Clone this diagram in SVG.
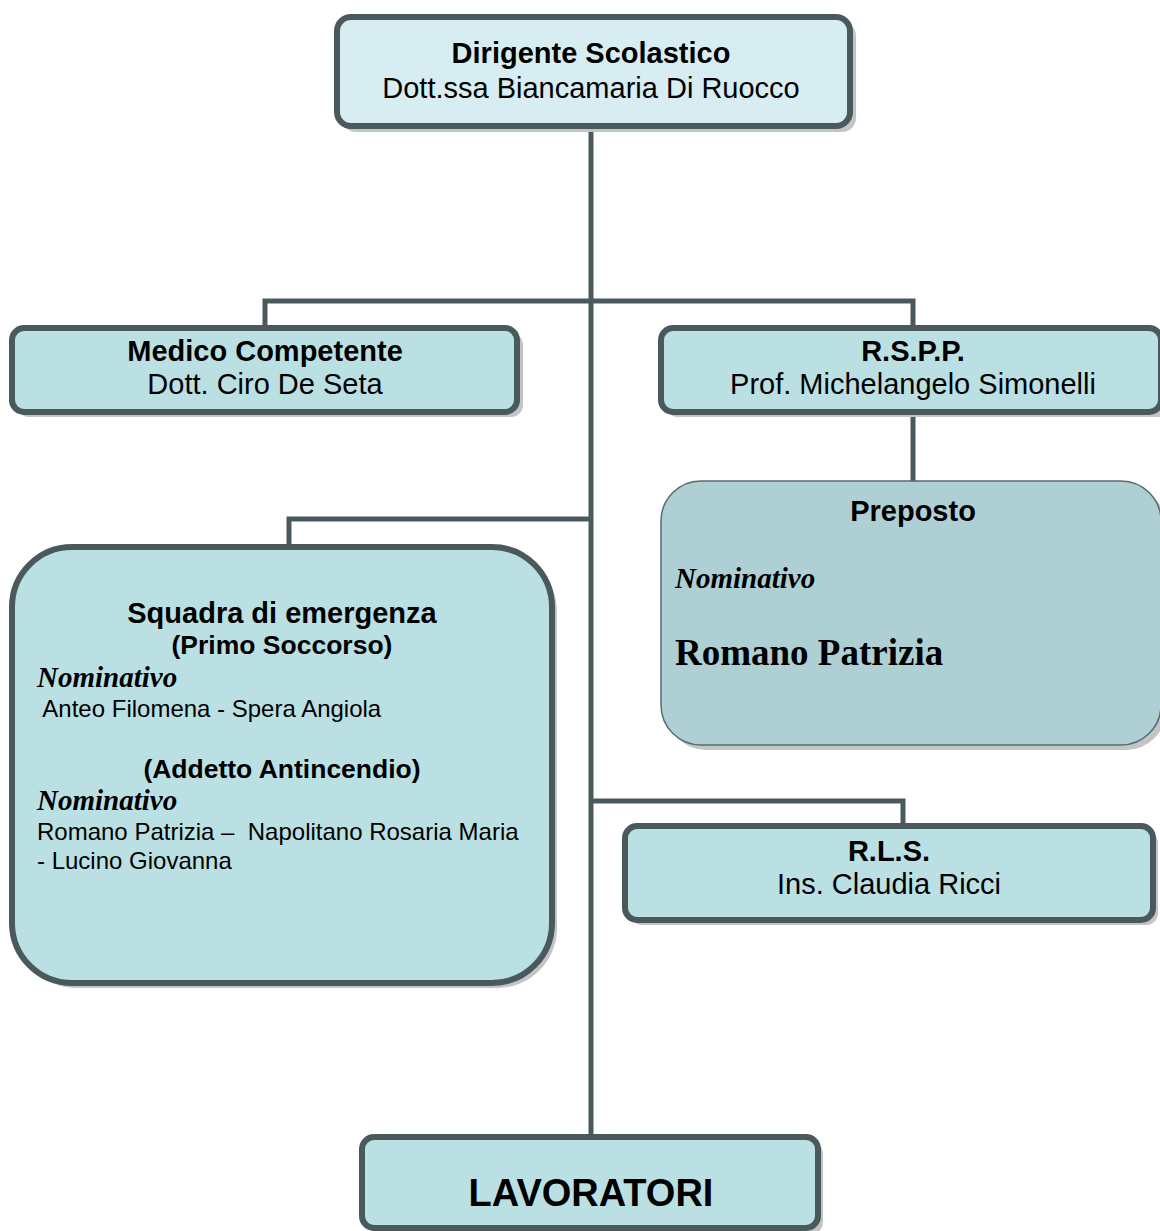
<svg xmlns="http://www.w3.org/2000/svg" width="1160" height="1231" viewBox="0 0 1160 1231">
<style>
.box{fill:#bae0e4;stroke:#4a5a5c;stroke-width:6}
.shadow{fill:#c4c4c4}
.conn{fill:none;stroke:#4a5a5c;stroke-width:5}
.t{font-family:"Liberation Sans",Arial,sans-serif;fill:#000;text-anchor:middle}
.b{font-weight:bold}
.nom{font-family:"Liberation Serif","Times New Roman",serif;font-style:italic;font-weight:bold;font-size:29px}
.l{font-family:"Liberation Sans",Arial,sans-serif;font-size:24px}
</style>
<rect width="1160" height="1231" fill="#fff"/>
<g id="connectors">
<path class="conn" d="M591 127V1137"/>
<path class="conn" d="M265 328V301H913V328"/>
<path class="conn" d="M913 412V481"/>
<path class="conn" d="M289 547V519H591"/>
<path class="conn" d="M591 801H903V826"/>
</g>
<g id="dirigente">
<rect class="shadow" x="342" y="22" width="514" height="110" rx="14"/>
<rect class="box" x="337" y="17" width="513" height="109" rx="14" style="fill:#d8edf1"/>
<text class="t b" x="591" y="63" font-size="29">Dirigente Scolastico</text>
<text class="t" x="591" y="98" font-size="29">Dott.ssa Biancamaria Di Ruocco</text>
</g>
<g id="medico">
<rect class="shadow" x="17" y="333" width="506" height="84" rx="12"/>
<rect class="box" x="12" y="328" width="505" height="84" rx="12"/>
<text class="t b" x="265" y="361" font-size="29">Medico Competente</text>
<text class="t" x="265" y="394" font-size="29">Dott. Ciro De Seta</text>
</g>
<g id="rspp">
<rect class="shadow" x="666" y="333" width="505" height="84" rx="12"/>
<rect class="box" x="661" y="328" width="500" height="84" rx="12"/>
<text class="t b" x="913" y="361" font-size="29">R.S.P.P.</text>
<text class="t" x="913" y="394" font-size="29">Prof. Michelangelo Simonelli</text>
</g>
<g id="preposto">
<rect class="shadow" x="666" y="486" width="500" height="264" rx="40"/>
<rect x="661" y="481" width="500" height="264" rx="40" fill="#aed0d4" stroke="#5a6a6c" stroke-width="1.5"/>
<text class="t b" x="913" y="521" font-size="29">Preposto</text>
<text class="nom" x="675" y="588">Nominativo</text>
<text x="675" y="665" font-family="'Liberation Serif','Times New Roman',serif" font-weight="bold" font-size="37">Romano Patrizia</text>
</g>
<g id="squadra">
<rect class="shadow" x="17" y="552" width="540" height="436" rx="60"/>
<rect class="box" x="12" y="547" width="540" height="436" rx="60"/>
<text class="t b" x="282" y="623" font-size="29">Squadra di emergenza</text>
<text class="t b" x="282" y="654" font-size="26.5">(Primo Soccorso)</text>
<text class="nom" x="37" y="687">Nominativo</text>
<text class="l" x="37" y="717" xml:space="preserve"> Anteo Filomena - Spera Angiola</text>
<text class="t b" x="282" y="778" font-size="26.5">(Addetto Antincendio)</text>
<text class="nom" x="37" y="810">Nominativo</text>
<text class="l" x="37" y="840" xml:space="preserve">Romano Patrizia –  Napolitano Rosaria Maria</text>
<text class="l" x="37" y="869">- Lucino Giovanna</text>
</g>
<g id="rls">
<rect class="shadow" x="630" y="831" width="528" height="94" rx="12"/>
<rect class="box" x="625" y="826" width="528" height="94" rx="12"/>
<text class="t b" x="889" y="861" font-size="29">R.L.S.</text>
<text class="t" x="889" y="894" font-size="29">Ins. Claudia Ricci</text>
</g>
<g id="lavoratori">
<rect class="shadow" x="367" y="1142" width="456" height="92" rx="12"/>
<rect class="box" x="362" y="1137" width="456" height="91" rx="12"/>
<text class="t b" x="591" y="1206" font-size="38">LAVORATORI</text>
</g>
</svg>
